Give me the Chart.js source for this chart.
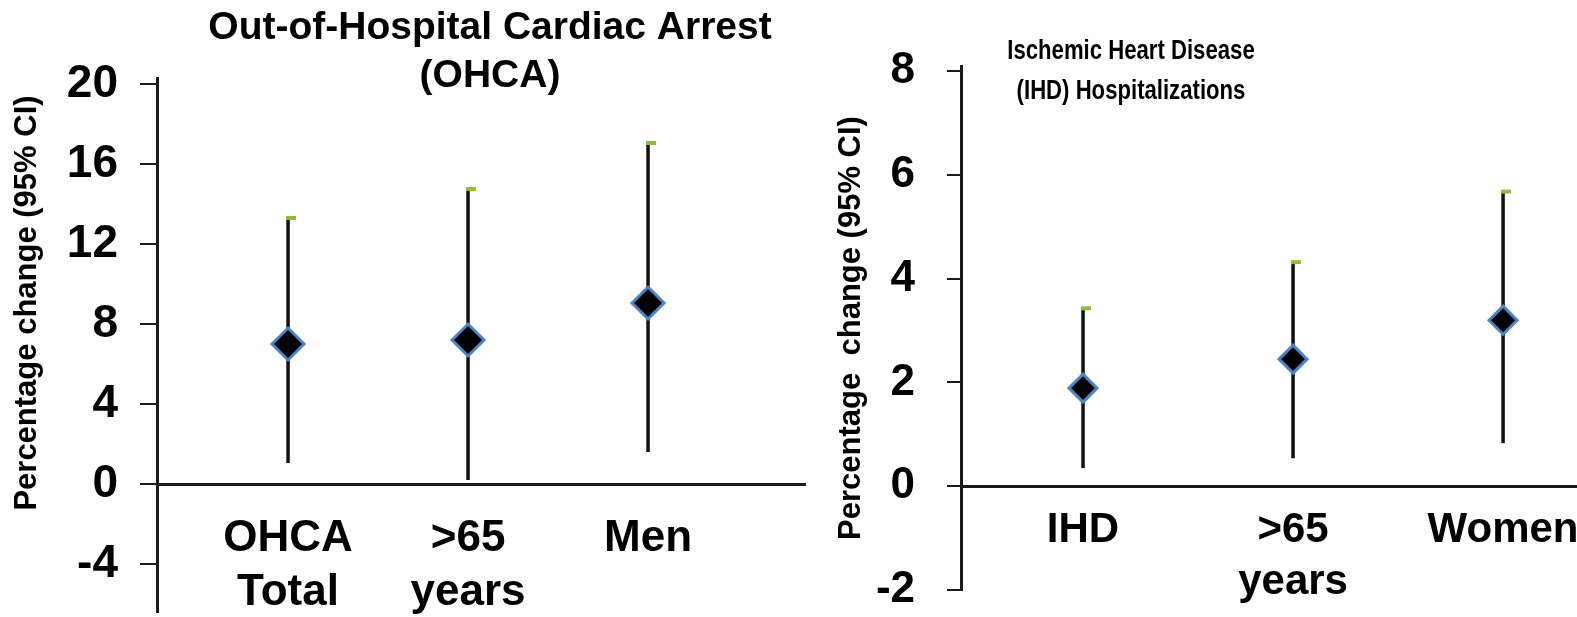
<!DOCTYPE html>
<html>
<head>
<meta charset="utf-8">
<script src="https://cdn.jsdelivr.net/npm/chart.js@4.4.1/dist/chart.umd.min.js"></script>
<style>
  html, body { margin: 0; padding: 0; background: #fff; }
  body { width: 1577px; height: 617px; position: relative; overflow: hidden; }
  canvas { position: absolute; top: 0; }
  #ohcaChart { left: 0; }
  #ihdChart { left: 800px; }
</style>
</head>
<body>
<canvas id="ohcaChart" width="830" height="617"></canvas>
<canvas id="ihdChart" width="777" height="617"></canvas>
<script>
// Left panel: out-of-hospital cardiac arrest
const ohcaGroups = [['OHCA', 'Total'], ['>65', 'years'], 'Men'];
const ohcaEstimate = [7.0, 7.2, 9.05];
const ohcaLower = [1.05, 0.2, 1.6];
const ohcaUpper = [13.3, 14.75, 17.05];
const ohcaTicks = [-4, 0, 4, 8, 12, 16, 20];

// Right panel: ischemic heart disease hospitalizations
const ihdGroups = ['IHD', ['>65', 'years'], 'Women'];
const ihdEstimate = [1.89, 2.45, 3.2];
const ihdLower = [0.35, 0.54, 0.83];
const ihdUpper = [3.43, 4.32, 5.68];
const ihdTicks = [-2, 0, 2, 4, 6, 8];

const ohcaTitle = ['Out-of-Hospital Cardiac Arrest', '(OHCA)'];
const ihdTitle = ['Ischemic Heart Disease', '(IHD) Hospitalizations'];
const ohcaYTitle = 'Percentage change (95% CI)';
const ihdYTitle = 'Percentage  change (95% CI)';

const FONT = "'Liberation Sans', Arial, Helvetica, sans-serif";
Chart.defaults.font.family = FONT;
Chart.defaults.color = '#000';

// vertical CI lines with the little green cap on top
const errorBars = {
    id: 'errorBars',
    beforeDatasetsDraw(chart, args, opts) {
        const { ctx, scales: { x, y } } = chart;
        ctx.save();
        opts.lower.forEach((lo, i) => {
            const px = x.getPixelForValue(i + 1);
            const top = y.getPixelForValue(opts.upper[i]);
            ctx.strokeStyle = '#111';
            ctx.lineWidth = 3.5;
            ctx.beginPath();
            ctx.moveTo(px, y.getPixelForValue(lo));
            ctx.lineTo(px, top);
            ctx.stroke();
            ctx.fillStyle = '#8fbf3a';
            ctx.fillRect(px - 2, top - 2, 10, 4);
        });
        ctx.restore();
    }
};

// panel titles and rotated y titles
const panelText = {
    id: 'panelText',
    afterDraw(chart, args, opts) {
        const ctx = chart.ctx;
        ctx.save();
        ctx.fillStyle = '#000';
        ctx.textAlign = 'center';
        ctx.textBaseline = 'middle';
        ctx.font = 'bold ' + opts.titleSize + 'px ' + FONT;
        opts.title.forEach((line, i) => {
            ctx.save();
            ctx.translate(opts.titleX, opts.titleY + i * opts.titleGap);
            ctx.scale(opts.titleScaleX, 1);
            ctx.fillText(line, 0, 0);
            ctx.restore();
        });
        ctx.font = 'bold ' + opts.yTitleSize + 'px ' + FONT;
        ctx.translate(opts.yTitleX, opts.yTitleY);
        ctx.rotate(-Math.PI / 2);
        ctx.fillText(opts.yTitle, 0, 0);
        ctx.restore();
    }
};

function makePanel(canvasId, cfg) {
    const canvas = document.getElementById(canvasId);
    return new Chart(canvas, {
        type: 'scatter',
        data: {
            datasets: [{
                data: cfg.estimate.map((v, i) => ({ x: i + 1, y: v })),
                pointStyle: 'rectRot',
                pointRadius: cfg.pointRadius,
                backgroundColor: '#000',
                borderColor: '#4a84c9',
                borderWidth: 3
            }]
        },
        options: {
            responsive: false,
            devicePixelRatio: 1,
            animation: false,
            layout: {
                autoPadding: false,
                padding: { top: cfg.top, bottom: 617 - cfg.bottom, left: 0, right: canvas.width - cfg.right }
            },
            plugins: {
                legend: { display: false },
                tooltip: { enabled: false },
                errorBars: { lower: cfg.lower, upper: cfg.upper },
                panelText: cfg.text
            },
            scales: {
                x: {
                    type: 'linear',
                    position: { y: 0 },
                    min: cfg.xMin,
                    max: cfg.xMax,
                    afterBuildTicks: s => { s.ticks = cfg.groups.map((g, i) => ({ value: i + 1 })); },
                    afterFit: s => { s.paddingLeft = 0; s.paddingRight = 0; },
                    grid: { display: false },
                    border: { display: true, color: '#1a1a1a', width: 3 },
                    ticks: {
                        autoSkip: false,
                        maxRotation: 0,
                        padding: cfg.xPad,
                        font: { size: cfg.xFont, weight: 'bold', lineHeight: 1.22 },
                        callback: (v, i) => cfg.groups[i]
                    }
                },
                y: {
                    min: cfg.yMin,
                    max: cfg.yMax,
                    afterBuildTicks: s => { s.ticks = cfg.ticks.map(v => ({ value: v })); },
                    afterFit: s => { s.width = cfg.axisX; s.paddingTop = 0; s.paddingBottom = 0; },
                    grid: { drawOnChartArea: false, color: '#1a1a1a', lineWidth: 2, tickLength: cfg.tickLen },
                    border: { display: true, color: '#1a1a1a', width: 3 },
                    ticks: {
                        padding: cfg.yPad,
                        font: { size: cfg.yFont, weight: 'bold' }
                    }
                }
            }
        },
        plugins: [errorBars, panelText]
    });
}

makePanel('ohcaChart', {
    groups: ohcaGroups, estimate: ohcaEstimate, lower: ohcaLower, upper: ohcaUpper, ticks: ohcaTicks,
    yMin: -6.4, yMax: 20.3, xMin: 0.272, xMax: 3.872,
    top: 78, bottom: 612, right: 805, axisX: 157,
    tickLen: 17, yPad: 22, yFont: 46, xFont: 44, xPad: 20, pointRadius: 16,
    text: {
        title: ohcaTitle, titleX: 490, titleY: 28, titleGap: 48, titleSize: 39, titleScaleX: 1,
        yTitle: ohcaYTitle, yTitleX: 27, yTitleY: 303, yTitleSize: 31
    }
});

makePanel('ihdChart', {
    groups: ihdGroups, estimate: ihdEstimate, lower: ihdLower, upper: ihdUpper, ticks: ihdTicks,
    yMin: -2, yMax: 8.1, xMin: 0.419, xMax: 3.352,
    top: 66, bottom: 590, right: 777, axisX: 161,
    tickLen: 14, yPad: 32, yFont: 44, xFont: 42, xPad: 11, pointRadius: 14,
    text: {
        title: ihdTitle, titleX: 331, titleY: 52, titleGap: 40, titleSize: 27, titleScaleX: 0.82,
        yTitle: ihdYTitle, yTitleX: 51, yTitleY: 328, yTitleSize: 31
    }
});
</script>
</body>
</html>
